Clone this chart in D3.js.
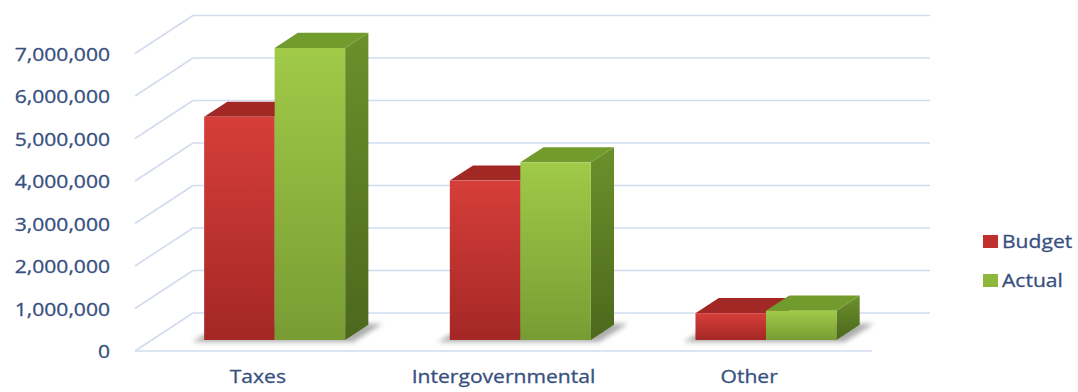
<!DOCTYPE html>
<html><head><meta charset="utf-8">
<script src="https://cdn.jsdelivr.net/npm/d3@7"></script>
<style>body{margin:0;background:#fff;} svg{display:block;}</style>
</head><body>
<svg id="chart" width="1078" height="392"></svg>
<script>
const categories = ["Taxes", "Intergovernmental", "Other"];
const seriesNames = ["Budget", "Actual"];
const budget = [5250000, 3750000, 630000];
const actual = [6870000, 4180000, 690000];
const yTicks = [0, 1000000, 2000000, 3000000, 4000000, 5000000, 6000000, 7000000];

const svg = d3.select("#chart");
const FONT = "'Open Sans', 'Liberation Sans', sans-serif";
const TXT = "#385080";
const SX = 1.14;
const DX = 58, DY = -38;          // chart depth vector
const F0 = 0.29, FD = 0.40;       // bar front position and depth (fractions)

const y = d3.scaleLinear().domain([0, 7000000]).range([351, 53.5]);
const x = d3.scaleBand().domain(categories).range([135, 872]).paddingInner(0.426).paddingOuter(0.213);
const xs = d3.scaleBand().domain(seriesNames).range([0, x.bandwidth()]);

const defs = svg.append("defs");
function grad(id, c1, c2) {
  const g = defs.append("linearGradient").attr("id", id).attr("x1", 0).attr("y1", 0).attr("x2", 0).attr("y2", 1);
  g.append("stop").attr("offset", "0%").attr("stop-color", c1);
  g.append("stop").attr("offset", "100%").attr("stop-color", c2);
}
grad("redFront", "#d63e3a", "#a42725");
grad("greenFront", "#a0ca48", "#789c33");
grad("greenSide", "#6c902b", "#4c681d");
grad("redSide", "#8a2220", "#6a1715");
defs.append("filter").attr("id", "blur").attr("x", "-20%").attr("y", "-50%").attr("width", "140%").attr("height", "200%")
  .append("feGaussianBlur").attr("stdDeviation", 2.5);

const styles = {
  Budget: { front: "url(#redFront)", top: "#a22826", side: "url(#redSide)", legend: "#c0302d" },
  Actual: { front: "url(#greenFront)", top: "#719c2d", side: "url(#greenSide)", legend: "#8db83c" }
};

// gridlines: back wall and left side wall
const grid = svg.append("g").attr("stroke", "#d3dcee").attr("stroke-width", 1.6).attr("fill", "none");
const x0 = x.range()[0], x1 = x.range()[1];
yTicks.forEach(v => {
  grid.append("line").attr("x1", x0).attr("y1", y(v)).attr("x2", x0 + DX).attr("y2", y(v) + DY);
  grid.append("line").attr("x1", x0 + DX).attr("y1", y(v) + DY).attr("x2", x1 + DX).attr("y2", y(v) + DY);
});
// floor front edge
grid.append("line").attr("x1", x0).attr("y1", y(0)).attr("x2", x1).attr("y2", y(0));

function styleText(sel) {
  sel.attr("font-family", FONT).attr("font-size", 18.5).attr("fill", TXT)
    .attr("stroke", TXT).attr("stroke-width", 0.3);
}

// y axis labels
const yAxis = svg.append("g").attr("transform", "translate(110,0)")
  .call(d3.axisLeft(y).tickValues(yTicks).tickFormat(d3.format(",")).tickSize(0).tickPadding(0));
yAxis.select(".domain").remove();
yAxis.selectAll("text").attr("x", 0).attr("dy", "0.36em").call(styleText)
  .attr("transform", `scale(${SX},1)`);

// x axis labels
const xAxis = svg.append("g").attr("transform", `translate(0,${y(0)})`)
  .call(d3.axisBottom(x).tickSize(0).tickPadding(0));
xAxis.select(".domain").remove();
xAxis.selectAll("text").attr("y", 32).attr("dy", 0).call(styleText)
  .attr("transform", `scale(${SX},1)`);

// bars
const ox = F0 * DX, oy = F0 * DY, bdx = FD * DX, bdy = FD * DY;
const bars = svg.append("g");
categories.forEach((c, i) => {
  const gx = x(c) + ox, base = y(0) + oy, W = x.bandwidth();
  // shadow
  bars.append("polygon")
    .attr("points", [[gx - 12, base + 2], [gx + W + 8, base + 2], [gx + W + bdx + 14, base + bdy - 1], [gx + bdx - 4, base + bdy - 1]].map(p => p.join(",")).join(" "))
    .attr("fill", "#6a6a6a").attr("opacity", 0.55).attr("filter", "url(#blur)");
  const vals = { Budget: budget[i], Actual: actual[i] };
  seriesNames.forEach(s => {
    const bx = gx + xs(s), bw = xs.bandwidth();
    const top = y(vals[s]) + oy;
    const st = styles[s];
    bars.append("polygon")
      .attr("points", [[bx + bw, top], [bx + bw + bdx, top + bdy], [bx + bw + bdx, base + bdy], [bx + bw, base]].map(p => p.join(",")).join(" "))
      .attr("fill", st.side);
    bars.append("polygon")
      .attr("points", [[bx, top], [bx + bw, top], [bx + bw + bdx, top + bdy], [bx + bdx, top + bdy]].map(p => p.join(",")).join(" "))
      .attr("fill", st.top);
    bars.append("rect").attr("x", bx).attr("y", top).attr("width", bw).attr("height", base - top)
      .attr("fill", st.front);
  });
});

// legend
const legend = svg.append("g");
const ly = d3.scalePoint().domain(seriesNames).range([242, 281]);
seriesNames.forEach(s => {
  const g = legend.append("g").attr("transform", `translate(983,${ly(s)})`);
  g.append("rect").attr("x", 0).attr("y", -7).attr("width", 15).attr("height", 13).attr("fill", styles[s].legend);
  g.append("text").attr("x", 0).attr("y", 6).call(styleText)
    .attr("transform", `translate(19,0) scale(${SX},1)`).text(s);
});
</script>
</body></html>
